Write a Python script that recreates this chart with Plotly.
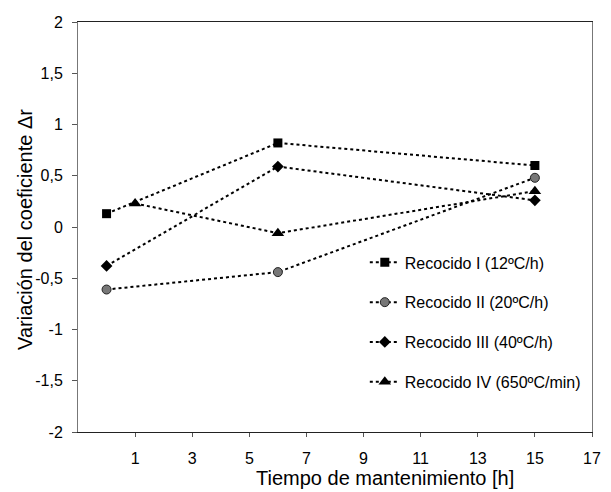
import plotly.graph_objects as go

# ---- data ----
x_main = [0, 6, 15]
x_iv = [1, 6, 15]
rec_i = [0.13, 0.82, 0.60]
rec_ii = [-0.61, -0.44, 0.48]
rec_iii = [-0.38, 0.59, 0.26]
rec_iv = [0.23, -0.06, 0.35]
series_names = ["Recocido I (12ºC/h)", "Recocido II (20ºC/h)",
                "Recocido III (40ºC/h)", "Recocido IV (650ºC/min)"]
x_tickvals = [1, 3, 5, 7, 9, 11, 13, 15, 17]
y_tickvals = [2, 1.5, 1, 0.5, 0, -0.5, -1, -1.5, -2]
y_ticktext = ["2", "1,5", "1", "0,5", "0", "-0,5", "-1", "-1,5", "-2"]
x_title = "Tiempo de mantenimiento [h]"
y_title = "Variación del coeficiente Δr"

FONT = "Liberation Sans, Arial, sans-serif"
line_style = dict(color="black", width=2, dash="3px,3px")

fig = go.Figure()
specs = [
    (x_main, rec_i, dict(symbol="square", size=9, color="black")),
    (x_main, rec_ii, dict(symbol="circle", size=9, color="#777777",
                          line=dict(color="#222", width=1))),
    (x_main, rec_iii, dict(symbol="diamond", size=9, color="black")),
    (x_iv, rec_iv, dict(symbol="triangle-up", size=11, color="black")),
]
for (xs, ys, mk), nm in zip(specs, series_names):
    fig.add_trace(go.Scatter(x=xs, y=ys, name=nm, mode="lines+markers",
                             line=line_style, marker=mk, legendgroup=nm))

fig.update_layout(
    width=611, height=492,
    margin=dict(l=78, r=10, t=22, b=60),
    paper_bgcolor="white", plot_bgcolor="white",
    font=dict(family=FONT, size=16, color="black"),
    showlegend=True,
    legend=dict(x=0.558, y=0.455, xanchor="left", yanchor="top",
                bgcolor="rgba(0,0,0,0)", tracegroupgap=16,
                font=dict(size=16)),
    xaxis=dict(range=[-1, 17], tickvals=x_tickvals, showgrid=False,
               zeroline=False, showline=True, mirror=True,
               linecolor="#222", linewidth=1, ticks="outside", ticklen=4,
               tickcolor="#555", ticklabelstandoff=8),
    yaxis=dict(range=[-2, 2], tickvals=y_tickvals, ticktext=y_ticktext,
               showgrid=False, zeroline=False, showline=True, mirror=True,
               linecolor="#777", linewidth=1, ticks="outside", ticklen=5,
               tickcolor="#555", ticklabelstandoff=6),
    annotations=[
        dict(text=x_title, xref="paper", yref="paper", x=0.597, y=-0.113,
             xanchor="center", yanchor="middle", showarrow=False,
             font=dict(size=20)),
        dict(text=y_title, xref="paper", yref="paper", x=-0.103, y=0.493,
             xanchor="center", yanchor="middle", showarrow=False,
             textangle=-90, font=dict(size=20)),
    ],
)

fig.write_html("out.html")
